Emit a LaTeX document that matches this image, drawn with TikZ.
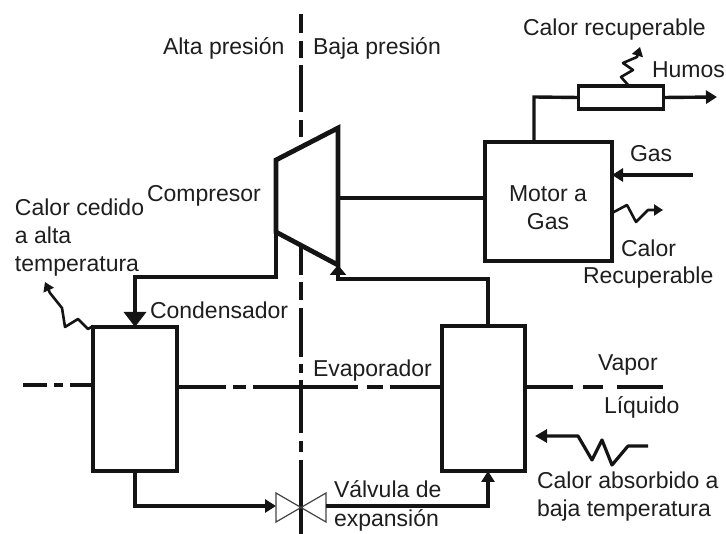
\documentclass[tikz,border=0pt]{standalone}
\usepackage{fontspec}
\setmainfont{Liberation Sans}
\usepackage{xcolor}
\usetikzlibrary{arrows.meta,positioning,calc}
\definecolor{inkcol}{RGB}{20,20,20}
\definecolor{textcol}{RGB}{30,30,30}
\tikzset{
  % process box
  pbox/.style={rectangle, draw=inkcol, line width=3.6pt, fill=white, inner sep=0pt, outer sep=0pt},
  % refrigerant or gas pipe
  pipe/.style={draw=inkcol, line width=3.4pt, line join=miter},
  % pipe with arrow head at the end
  flow/.style={pipe, -{Triangle[length=11pt,width=13pt]}},
  % wavy heat line
  heatline/.style={draw=inkcol, line width=2.6pt, line join=round, -{Triangle[length=9pt,width=11pt]}},
  % broken divider lines
  divider/.style={draw=inkcol, line width=3.6pt},
  % thin valve outline
  valveline/.style={draw=inkcol!80, line width=1.2pt},
  % text label
  lbl/.style={font=\fontsize{23}{28}\selectfont, text=textcol, inner sep=0pt, outer sep=0pt, anchor=base west},
}
\begin{document}
\begin{tikzpicture}[x=1pt,y=-1pt]
  \useasboundingbox (0,0) rectangle (726,534);
  % broken lines
  \foreach \ya/\yb in {14/33,41/58,65/112,120/137,145/192,200/217,225/275,282/300,308/357,364/373,380/433,441/452,460/534}
    \draw[divider] (301,\ya) -- (301,\yb);
  \foreach \xa/\xb in {177/226,233/246,253/358,367/383,390/442,525/573,583/603,617/663}
    \draw[divider] (\xa,387) -- (\xb,387);
  \foreach \xa/\xb in {23/47,54/63,70/93}
    \draw[divider] (\xa,385) -- (\xb,385);
  % boxes
  \node[pbox, minimum width=84pt, minimum height=144pt] (condensador) at (135,399) {};
  \node[pbox, minimum width=83pt, minimum height=145pt] (evaporador) at (483.5,398.5) {};
  \node[pbox, minimum width=127pt, minimum height=119pt] (motor) at (548.5,201.5) {};
  \node[pbox, minimum width=85pt, minimum height=23pt] (recuperador) at (621,97.5) {};
  % compressor
  \coordinate (compTL) at (276,160);
  \coordinate (compTR) at (338,128);
  \coordinate (compBR) at (338,265);
  \coordinate (compBL) at (276,232);
  \draw[pipe, line width=4.8pt, fill=white] (compTL) -- (compTR) -- (compBR) -- (compBL) -- cycle;
  % valve
  \coordinate (valve) at (301,506);
  \coordinate (valveL) at (276,506);
  \coordinate (valveR) at (326,506);
  \draw[valveline] (276,493) -- (326,522) -- (326,493) -- (276,522) -- cycle;
  % pipes
  \coordinate (shaft) at (338,198);
  \coordinate (condtop) at (135,277);
  \coordinate (evapup) at (488,279);
  \coordinate (evapin) at (488,471);
  \coordinate (exhaust) at (534,97);
  \coordinate (humosend) at (717,97);
  \coordinate (gasstart) at (693,175);
  \draw[pipe] (shaft) -- (shaft -| motor.west);
  \draw[flow, -{Triangle[length=15pt,width=22pt]}] (compBL) |- (condtop) -- (condensador.north);
  \draw[flow, -{Triangle[length=10pt,width=16pt]}] (evaporador.north -| evapup) -- (evapup) -- (evapup -| compBR) -- (compBR);
  \draw[flow] (condensador.south) |- (valveL);
  \draw[flow] (valveR) -| (evapin);
  \draw[pipe] (motor.north -| exhaust) -- (exhaust) -- (recuperador.west);
  \draw[flow] (recuperador.east) -- (humosend);
  \draw[flow] (gasstart) -- (gasstart -| motor.east);
  % heat lines
  \coordinate (heatA) at (640,47);
  \coordinate (heatB) at (663,210);
  \coordinate (heatC) at (45,282);
  \coordinate (heatD) at (535,436);
  \coordinate (heatDstart) at (648,446);
  \draw[heatline] (recuperador.north -| 629,0) -- (621,77) -- (633,70) -- (623,63) -- (637,57) -- (heatA);
  \draw[heatline] (motor.east |- 0,213) -- (627,205) -- (636,222) -- (648,210) -- (heatB);
  \draw[heatline] (93,326) -- (88,329) -- (78,319) -- (65,327) -- (62,308) -- (50,293) -- (heatC);
  \draw[heatline, line width=3.2pt, -{Triangle[length=12pt,width=13pt]}] (heatDstart) -- (628,446) -- (612,465) -- (602,440) -- (592,460) -- (578,436) -- (heatD);
  % labels
  \node[lbl] (alta) at (163,55) {Alta presión};
  \node[lbl] (baja) at (313,55) {Baja presión};
  \node[lbl] (calorrec) at (523,36) {Calor recuperable};
  \node[lbl] (humos) at (652,78) {Humos};
  \node[lbl] (gas) at (630,162) {Gas};
  \node[lbl, anchor=base] (motorA) at (548,202) {Motor a};
  \node[lbl, anchor=base] (motorB) at (548,230) {Gas};
  \node[lbl] (calorA) at (621,257) {Calor};
  \node[lbl] (calorB) at (583,284) {Recuperable};
  \node[lbl] (compresor) at (147,202) {Compresor};
  \node[lbl] (cedidoA) at (15,216) {Calor cedido};
  \node[lbl] (cedidoB) at (15,244) {a alta};
  \node[lbl] (cedidoC) at (15,272) {temperatura};
  \node[lbl] (condlabel) at (150,319) {Condensador};
  \node[lbl] (evaplabel) at (313,377) {Evaporador};
  \node[lbl] (vapor) at (598,371) {Vapor};
  \node[lbl] (liquido) at (604,414) {Líquido};
  \node[lbl] (valvulaA) at (334,498) {Válvula de};
  \node[lbl] (valvulaB) at (334,526) {expansión};
  \node[lbl] (absorbA) at (537,489) {Calor absorbido a};
  \node[lbl] (absorbB) at (537,517) {baja temperatura};
\end{tikzpicture}
\end{document}
